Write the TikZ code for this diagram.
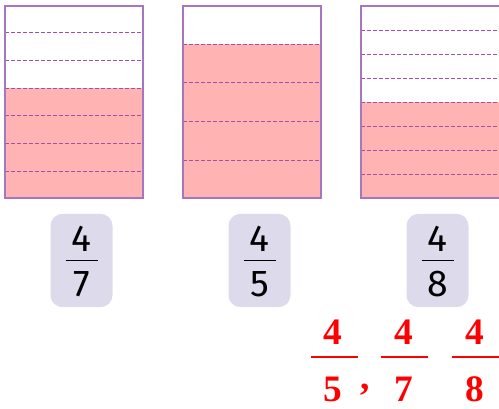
\documentclass[tikz,border=0pt]{standalone}
\usepackage{fontspec}
\newfontfamily\cardfont{Fira Sans}
\newfontfamily\answerfont{Liberation Serif}
\definecolor{framepurple}{HTML}{A676C2}
\definecolor{dividerpurple}{HTML}{A050A8}
\definecolor{waterpink}{HTML}{FFB3B3}
\definecolor{cardlilac}{HTML}{DDDAEC}
\definecolor{answerred}{HTML}{FF0000}

\begin{document}
\begin{tikzpicture}[x=0.75pt,y=-0.75pt]
	\tikzstyle{jar}=[draw=framepurple, line width=0.8pt]
	\tikzstyle{divider}=[dividerpurple, line width=0.6pt, dash pattern=on 3pt off 1.5pt]
	\tikzstyle{card}=[rectangle, rounded corners=9pt, fill=cardlilac,
	minimum width=46.5pt, minimum height=70pt]
	\tikzstyle{digit}=[font=\cardfont\fontsize{28}{28}\selectfont, inner sep=0pt]
	\tikzstyle{answer}=[font=\answerfont\bfseries\fontsize{28}{28}\selectfont,
	text=answerred, inner sep=0pt]
	\tikzstyle{answerbar}=[answerred, line width=1.6pt]

	\useasboundingbox (0,0) rectangle (499,408);

	% jars
	\fill[waterpink] (5,88.3) rectangle (143,198);
	\foreach \y in {32.3,60.3,88.3,115.7,143.3,171.3}
		\draw[divider] (5,\y) -- (143,\y);
	\draw[jar] (5,6) rectangle (143,198);

	\fill[waterpink] (183,44) rectangle (321,198);
	\foreach \y in {44,82.3,121.3,160.3}
		\draw[divider] (183,\y) -- (321,\y);
	\draw[jar] (183,6) rectangle (321,198);

	\fill[waterpink] (361,102.3) rectangle (500,198);
	\foreach \y in {30,54,78.3,102.3,126.7,150.7,174.7}
		\draw[divider] (361,\y) -- (500,\y);
	\draw[jar] (500,6) -- (361,6) -- (361,198) -- (500,198);

	% cards
	\node[card] at (81.5,260.5) (card1) {};
	\node[card] at (259.5,260.5) (card2) {};
	\node[card] at (437.5,260.5) (card3) {};

	\node[digit] at (81.5,239) (top1) {4};
	\node[digit] at (81.5,284) (bottom1) {7};
	\node[digit] at (259.5,239) (top2) {4};
	\node[digit] at (259.5,284) (bottom2) {5};
	\node[digit] at (437.5,239) (top3) {4};
	\node[digit] at (437.5,284) (bottom3) {8};

	\draw[line width=1pt] ([xshift=-12pt]card1.center) -- ([xshift=12pt]card1.center);
	\draw[line width=1pt] ([xshift=-12pt]card2.center) -- ([xshift=12pt]card2.center);
	\draw[line width=1pt] ([xshift=-12pt]card3.center) -- ([xshift=12pt]card3.center);

	% answer
	\node[answer] at (333,332.5) (num1) {4};
	\node[answer] at (333,389.5) (den1) {5};
	\node[answer] at (404,332.5) (num2) {4};
	\node[answer] at (404,389.5) (den2) {7};
	\node[answer] at (475,332.5) (num3) {4};
	\node[answer] at (475,389.5) (den3) {8};
	\node[answer, anchor=base] at (365,389) (comma) {,};

	\draw[answerbar] (311,357) -- (358,357);
	\draw[answerbar] (381,357) -- (428,357);
	\draw[answerbar] (452,357) -- (500,357);

\end{tikzpicture}
\end{document}
